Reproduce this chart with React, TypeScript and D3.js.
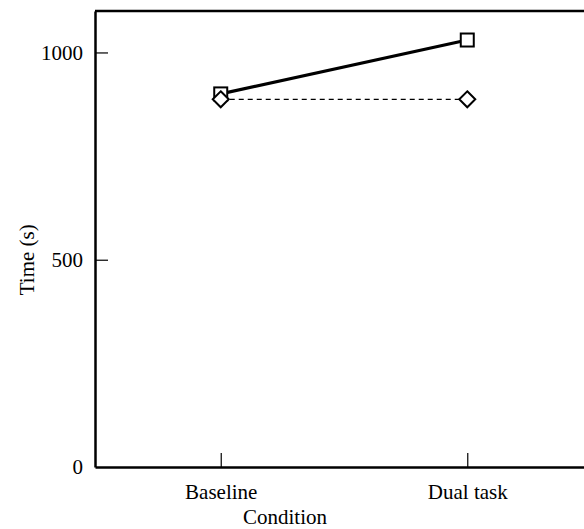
import React, { useEffect, useRef } from 'react'
import * as d3 from 'd3'

const conditions = ['Baseline', 'Dual task']
const squareSeries = [900, 1030]
const diamondSeries = [887, 887]
const yTicks = [0, 500, 1000]

const width = 584
const height = 529
const margin = { top: 11, right: -9, bottom: 62, left: 95 }

export default function App() {
  const ref = useRef<SVGSVGElement>(null)

  useEffect(() => {
    document.body.style.margin = '0'
    const node = ref.current
    if (!node) return
    const svg = d3.select(node)
    svg.selectAll('*').remove()

    const x = d3.scalePoint<string>()
      .domain(conditions)
      .range([margin.left, width - margin.right])
      .padding(0.51)

    const y = d3.scaleLinear()
      .domain([0, 1100])
      .range([height - margin.bottom, margin.top])

    const font = '"Liberation Serif", "Times New Roman", serif'

    // frame top line
    svg.append('line')
      .attr('x1', margin.left).attr('x2', width + 10)
      .attr('y1', margin.top).attr('y2', margin.top)
      .attr('stroke', '#000').attr('stroke-width', 2.5)

    const yAxis = svg.append('g')
      .attr('transform', `translate(${margin.left},0)`)
      .call(d3.axisLeft(y).tickValues(yTicks).tickFormat(d3.format('d')).tickSize(-13).tickSizeOuter(0).tickPadding(12))
    yAxis.select('.domain').attr('stroke-width', 2.5)

    const xAxis = svg.append('g')
      .attr('transform', `translate(0,${height - margin.bottom})`)
      .call(d3.axisBottom(x).tickSize(-14).tickSizeOuter(0).tickPadding(17))
    xAxis.select('.domain').attr('stroke-width', 2.5)

    svg.selectAll('.tick text')
      .attr('font-family', font)
      .attr('font-size', 21)
      .attr('fill', '#000')
    svg.selectAll('.tick line').attr('stroke-width', 1.2)
    // hide 0 tick mark overlapping the axis
    yAxis.selectAll('.tick').filter((d: any) => d === 0).select('line').remove()

    svg.append('text')
      .attr('x', 285)
      .attr('y', 524)
      .attr('text-anchor', 'middle')
      .attr('font-family', font)
      .attr('font-size', 21)
      .text('Condition')

    svg.append('text')
      .attr('transform', `translate(34,${y(500)}) rotate(-90)`)
      .attr('text-anchor', 'middle')
      .attr('font-family', font)
      .attr('font-size', 21)
      .text('Time (s)')

    const line = d3.line<number>()
      .x((d, i) => x(conditions[i]) as number)
      .y(d => y(d))

    svg.append('path')
      .datum(squareSeries)
      .attr('d', line)
      .attr('fill', 'none')
      .attr('stroke', '#000')
      .attr('stroke-width', 3.2)

    svg.append('g')
      .selectAll('rect')
      .data(squareSeries)
      .join('rect')
      .attr('x', (d, i) => (x(conditions[i]) as number) - 6.5)
      .attr('y', d => y(d) - 6.5)
      .attr('width', 13)
      .attr('height', 13)
      .attr('fill', '#fff')
      .attr('stroke', '#000')
      .attr('stroke-width', 2)

    svg.append('path')
      .datum(diamondSeries)
      .attr('d', line)
      .attr('fill', 'none')
      .attr('stroke', '#000')
      .attr('stroke-width', 1.3)
      .attr('stroke-dasharray', '5,4')

    svg.append('g')
      .selectAll('path')
      .data(diamondSeries)
      .join('path')
      .attr('transform', (d, i) => `translate(${x(conditions[i])},${y(d)})`)
      .attr('d', 'M0,-8L8,0L0,8L-8,0Z')
      .attr('fill', '#fff')
      .attr('stroke', '#000')
      .attr('stroke-width', 2)
  }, [])

  return <svg ref={ref} width={width} height={height} style={{ display: 'block' }} />
}
